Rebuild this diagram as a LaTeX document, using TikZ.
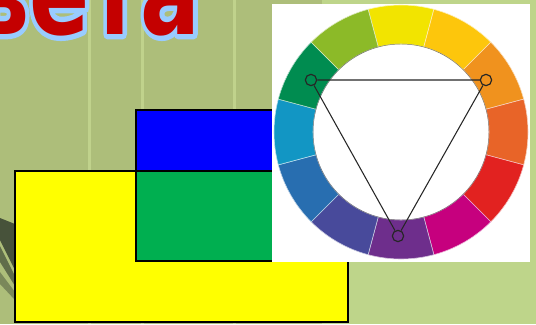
\documentclass[tikz,border=0pt]{standalone}
\usepackage{fontspec}
\newfontfamily\ttlfont{DejaVu Sans}

\begin{document}
\begin{tikzpicture}[x=0.03cm,y=0.03cm]
  \definecolor{bgo}{HTML}{ADBE7A}
  \definecolor{bgl}{HTML}{BED58A}
  \definecolor{strp}{HTML}{C0D28C}
  \definecolor{drk}{HTML}{47523A}
  \definecolor{ttlred}{HTML}{C40000}
  \definecolor{ttlblue}{HTML}{99CCFF}
  \definecolor{sq1}{HTML}{FFFF00}
  \definecolor{sq2}{HTML}{0000FF}
  \definecolor{sq3}{HTML}{00AF50}
  \tikzset{ttl/.style={font=\ttlfont\bfseries\fontsize{86}{86}\selectfont, anchor=base west, inner sep=0, xscale=0.88, yscale=1.15},
    sqr/.style={draw=black, line width=1.6pt},
    vtx/.style={circle, draw=black!85, line width=1pt, minimum size=0.34cm, inner sep=0},
    tri/.style={draw=black!85, line width=0.9pt}}
  \useasboundingbox (0,0) rectangle (536,324);
  \clip (0,0) rectangle (536,324);
  \fill[bgo] (0,0) rectangle (536,324);
  \fill[bgl] (322,0) rectangle (536,324);
  \foreach \x in {89,142,234} { \fill[strp] (\x-1.5,0) rectangle (\x+1.5,324); }
  \fill[drk] (0,106) -- (15,100) -- (15,54) -- (0,84) -- cycle;
  \fill[drk!75!bgo] (0,78) -- (15,48) -- (15,38) -- (0,62) -- cycle;
  \fill[drk!50!bgo] (0,52) -- (15,32) -- (15,24) -- (0,40) -- cycle;
  \node[ttl, text=ttlblue] (titlebg) at (-27,290) {\special{pdf:literal direct 1 Tr 8 w 1 j}вета\special{pdf:literal direct 0 Tr}};
  \node[ttl, text=ttlred] (title) at (-27,290) {вета};
  \fill[sq1, sqr] (15,2) rectangle (348,153);
  \fill[sq2, sqr] (136,153) rectangle (348,214);
  \fill[sq3, sqr] (136,63) rectangle (348,153);
  \fill[white] (272,62) rectangle (530,320);
  \begin{scope}[shift={(401,192)}]
    \foreach \a/\clr in {90/F2E400, 60/FDC60C, 30/F0921E, 0/E86428, -30/E22220, -60/C6007E, -90/6E2E8C, -120/484A9B, -150/286EB0, 180/1296C4, 150/008C50, 120/8CBA28} {
      \definecolor{seg}{HTML}{\clr}
      \fill[seg, draw=white!70!seg, line width=0.5pt] (\a-15:127) arc (\a-15:\a+15:127) -- (\a+15:88) arc (\a+15:\a-15:88) -- cycle;
    }
    \draw[black!55, line width=0.4pt] (0,0) circle (88);
  \end{scope}
  \node[vtx] (vl) at (311,244) {};
  \node[vtx] (vr) at (486,244) {};
  \node[vtx] (vb) at (398,88) {};
  \draw[tri] (vl) -- (vr) -- (vb) -- (vl);
\end{tikzpicture}
\end{document}
